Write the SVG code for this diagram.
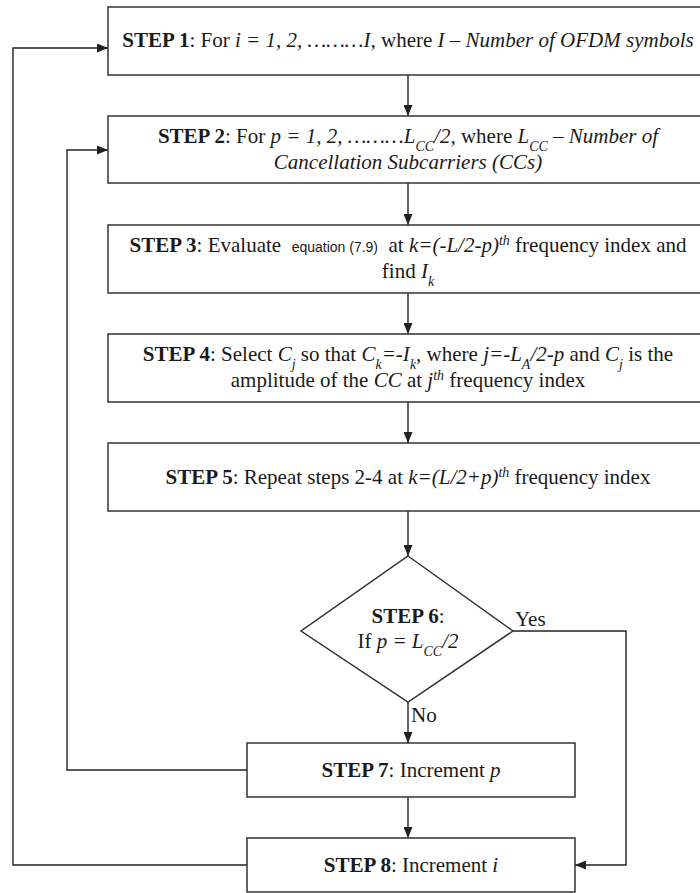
<svg xmlns="http://www.w3.org/2000/svg" width="700" height="893" viewBox="0 0 700 893">
<style>
.b{fill:#fff;stroke:#333;stroke-width:1.5}
.t{font-family:"Liberation Serif","Times New Roman",serif;font-size:21px;fill:#1a1a1a;text-anchor:middle}
.s{font-family:"Liberation Sans",Arial,sans-serif;font-size:14px}
.c{fill:none;stroke:#222;stroke-width:1.4}
.bo{font-weight:bold}
.i{font-style:italic}
.sub{font-size:14px;baseline-shift:sub}
.sup{font-size:14px;baseline-shift:super}
</style>
<defs>
<marker id="ah" markerUnits="userSpaceOnUse" markerWidth="11" markerHeight="9" refX="11" refY="4.5" orient="auto">
<path d="M0,0 L11,4.5 L0,9 z" fill="#222"/>
</marker>
</defs>
<rect width="700" height="893" fill="#fff"/>
<g id="connectors">
<path class="c" d="M408,75 V116" marker-end="url(#ah)"/>
<path class="c" d="M408,183 V225" marker-end="url(#ah)"/>
<path class="c" d="M408,293 V334" marker-end="url(#ah)"/>
<path class="c" d="M408,402 V443" marker-end="url(#ah)"/>
<path class="c" d="M408,511 V556" marker-end="url(#ah)"/>
<path class="c" d="M408,702 V743" marker-end="url(#ah)"/>
<path class="c" d="M408,797 V838" marker-end="url(#ah)"/>
<path class="c" d="M510,631 H626 V865 H575" marker-end="url(#ah)"/>
<path class="c" d="M247,770 H67 V150 H108" marker-end="url(#ah)"/>
<path class="c" d="M247,865 H13 V48 H108" marker-end="url(#ah)"/>
<text class="t" x="515" y="626" style="text-anchor:start">Yes</text>
<text class="t" x="411" y="722" style="text-anchor:start">No</text>
</g>
<g id="step1">
<rect class="b" x="108" y="7" width="640" height="68"/>
<text class="t" x="408" y="47"><tspan class="bo">STEP 1</tspan>: For <tspan class="i">i = 1, 2, ………I,</tspan> where <tspan class="i">I – Number of OFDM symbols</tspan></text>
</g>
<g id="step2">
<rect class="b" x="108" y="116" width="640" height="67"/>
<text class="t" x="408" y="143"><tspan class="bo">STEP 2</tspan>: For <tspan class="i">p = 1, 2, ………L</tspan><tspan class="i sub">CC</tspan><tspan class="i">/2,</tspan> where <tspan class="i">L</tspan><tspan class="i sub">CC</tspan><tspan class="i"> – Number of</tspan></text>
<text class="t i" x="408" y="169">Cancellation Subcarriers (CCs)</text>
</g>
<g id="step3">
<rect class="b" x="108" y="225" width="640" height="68"/>
<text class="t" x="408" y="252"><tspan class="bo">STEP 3</tspan>: Evaluate&#160; <tspan class="s">equation (7.9)</tspan>&#160; at <tspan class="i">k=(-L/2-p)</tspan><tspan class="i sup">th</tspan> frequency index and</text>
<text class="t" x="408" y="278">find <tspan class="i">I</tspan><tspan class="i sub">k</tspan></text>
</g>
<g id="step4">
<rect class="b" x="108" y="334" width="640" height="68"/>
<text class="t" x="408" y="361"><tspan class="bo">STEP 4</tspan>: Select <tspan class="i">C</tspan><tspan class="i sub">j</tspan> so that <tspan class="i">C</tspan><tspan class="i sub">k</tspan><tspan class="i">=-I</tspan><tspan class="i sub">k</tspan>, where <tspan class="i">j=-L</tspan><tspan class="i sub">A</tspan><tspan class="i">/2-p</tspan> and <tspan class="i">C</tspan><tspan class="i sub">j</tspan> is the</text>
<text class="t" x="408" y="387">amplitude of the <tspan class="i">CC</tspan> at <tspan class="i">j</tspan><tspan class="i sup">th</tspan> frequency index</text>
</g>
<g id="step5">
<rect class="b" x="108" y="443" width="640" height="68"/>
<text class="t" x="408" y="484"><tspan class="bo">STEP 5</tspan>: Repeat steps 2-4 at <tspan class="i">k=(L/2+p)</tspan><tspan class="i sup">th</tspan> frequency index</text>
</g>
<g id="step6">
<polygon class="b" points="408,556 513,631 408,702 301,631"/>
<text class="t" x="408" y="623"><tspan class="bo">STEP 6</tspan>:</text>
<text class="t" x="408" y="648">If <tspan class="i">p = L</tspan><tspan class="i sub">CC</tspan><tspan class="i">/2</tspan></text>
</g>
<g id="step7">
<rect class="b" x="247" y="743" width="328" height="54"/>
<text class="t" x="411" y="777"><tspan class="bo">STEP 7</tspan>: Increment <tspan class="i">p</tspan></text>
</g>
<g id="step8">
<rect class="b" x="247" y="838" width="328" height="54"/>
<text class="t" x="411" y="872"><tspan class="bo">STEP 8</tspan>: Increment <tspan class="i">i</tspan></text>
</g>
</svg>
